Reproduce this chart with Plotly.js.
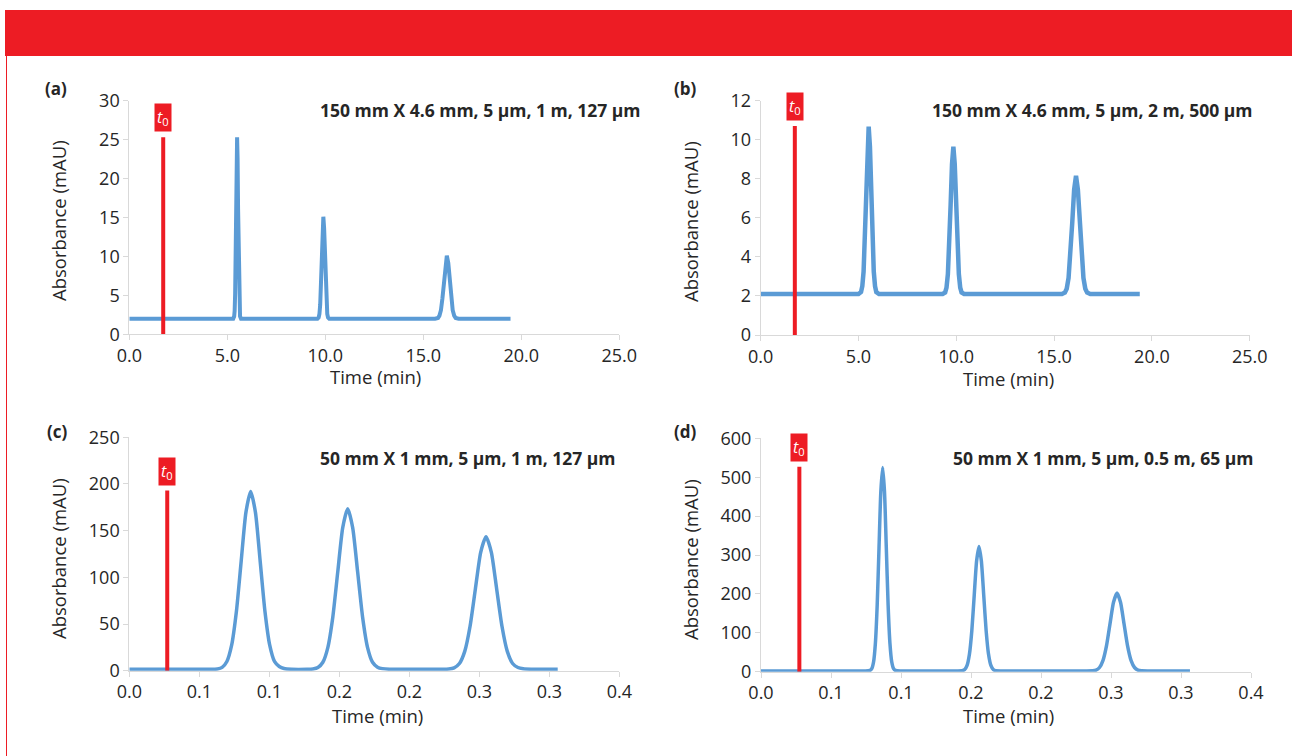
<!DOCTYPE html>
<html>
<head>
<meta charset="utf-8">
<script src="https://cdn.plot.ly/plotly-3.0.1.min.js"></script>
<style>html,body{margin:0;padding:0;background:#fff;}#chart{width:1292px;height:756px;}</style>
</head>
<body>
<div id="chart"></div>
<script>
// ---------- Data ----------
// Panel (a): 150 mm X 4.6 mm, 5 µm, 1 m, 127 µm
const timeA = [0, 5.3, 5.35, 5.375, 5.4, 5.425, 5.45, 5.475, 5.5, 5.525, 5.55, 5.575, 5.6, 5.625, 5.65, 5.7,
  9.6, 9.66, 9.7, 9.74, 9.78, 9.82, 9.86, 9.9, 9.94, 9.98, 10.02, 10.06, 10.1, 10.14, 10.2,
  15.6, 15.75, 15.825, 15.9, 15.975, 16.05, 16.125, 16.2, 16.275, 16.35, 16.425, 16.5, 16.575, 16.65, 16.8, 19.45];
const absA = [2.0, 2.0, 2.3, 3.0, 5.2, 9.6, 16.1, 22.6, 25.3, 22.6, 16.1, 9.6, 5.2, 3.0, 2.3, 2.0,
  2.0, 2.15, 2.6, 3.8, 6.3, 9.9, 13.6, 15.1, 13.6, 9.9, 6.3, 3.8, 2.6, 2.15, 2.0,
  2.0, 2.1, 2.4, 3.1, 4.6, 6.9, 9.15, 10.1, 9.15, 6.9, 4.6, 3.1, 2.4, 2.1, 2.0, 2.0];
const t0A = 1.73, t0TopA = 25.3;

// Panel (b): 150 mm X 4.6 mm, 5 µm, 2 m, 500 µm
const timeB = [0, 5.0, 5.13, 5.195, 5.26, 5.325, 5.39, 5.455, 5.52, 5.585, 5.65, 5.715, 5.78, 5.845, 5.91, 6.05,
  9.3, 9.43, 9.5, 9.57, 9.64, 9.71, 9.78, 9.85, 9.92, 9.99, 10.06, 10.13, 10.2, 10.27, 10.4,
  15.4, 15.55, 15.645, 15.74, 15.835, 15.93, 16.025, 16.12, 16.215, 16.31, 16.405, 16.5, 16.595, 16.69, 16.85, 19.38];
const absB = [2.1, 2.1, 2.2, 2.5, 3.25, 4.9, 7.3, 9.65, 10.67, 9.65, 7.3, 4.9, 3.25, 2.5, 2.2, 2.1,
  2.1, 2.18, 2.43, 3.12, 4.55, 6.67, 8.75, 9.64, 8.75, 6.67, 4.55, 3.12, 2.43, 2.18, 2.1,
  2.1, 2.17, 2.37, 2.92, 4.07, 5.78, 7.45, 8.16, 7.45, 5.78, 4.07, 2.92, 2.37, 2.17, 2.1, 2.1];
const t0B = 1.745, t0TopB = 10.7;

// Panel (c): 50 mm X 1 mm, 5 µm, 1 m, 127 µm
const timeC = [0, 0.03, 0.058, 0.0629, 0.0663, 0.0697, 0.0731, 0.0765, 0.0799, 0.0833, 0.0867, 0.0901, 0.0935, 0.0969, 0.1003, 0.1037, 0.1071, 0.1105, 0.116,
  0.127, 0.1312, 0.1347, 0.13825, 0.1418, 0.14535, 0.1489, 0.15245, 0.156, 0.15955, 0.1631, 0.16665, 0.1702, 0.17375, 0.1773, 0.1808, 0.186, 0.205,
  0.223, 0.2282, 0.232, 0.2358, 0.2396, 0.2434, 0.2472, 0.251, 0.2548, 0.2586, 0.2624, 0.2662, 0.27, 0.2738, 0.2776, 0.2814, 0.287, 0.306];
const absC = [1.5, 1.5, 1.5, 1.9, 3.6, 9.9, 27.3, 63.4, 117, 169.6, 192, 169.6, 117, 63.4, 27.3, 9.9, 4.5, 2.3, 1.5,
  1.5, 1.9, 3.4, 9.05, 24.8, 57.3, 105.8, 153.3, 173.5, 153.3, 105.8, 57.3, 24.8, 9.05, 3.8, 2.2, 1.5, 1.5,
  1.5, 1.8, 3.1, 7.7, 20.7, 47.6, 87.6, 126.8, 143.5, 126.8, 87.6, 47.6, 20.7, 7.7, 3.4, 2.0, 1.5, 1.5];
const t0C = 0.0271, t0TopC = 193;

// Panel (d): 50 mm X 1 mm, 5 µm, 0.5 m, 65 µm
const timeD = [0, 0.03, 0.074, 0.0778, 0.0791, 0.0804, 0.0817, 0.083, 0.0843, 0.0856, 0.0869, 0.0882, 0.0895, 0.0908, 0.0921, 0.0934, 0.0947, 0.096, 0.1, 0.12,
  0.14, 0.1438, 0.1455, 0.1472, 0.1489, 0.1506, 0.1523, 0.154, 0.1557, 0.1574, 0.1591, 0.1608, 0.1625, 0.1642, 0.1659, 0.1676, 0.172, 0.2,
  0.232, 0.2368, 0.2393, 0.2418, 0.2443, 0.2468, 0.2493, 0.2518, 0.2543, 0.2568, 0.2593, 0.2618, 0.2643, 0.2668, 0.2693, 0.2718, 0.277, 0.3064];
const absD = [2, 2, 2, 3.2, 7.8, 25, 72.8, 171.8, 319.2, 463.5, 525, 463.5, 319.2, 171.8, 72.8, 25, 7.8, 3.2, 2, 2,
  2, 2.7, 5.55, 16, 45.3, 105.9, 196.1, 284.4, 322, 284.4, 196.1, 105.9, 45.3, 16, 5.55, 2.7, 2, 2,
  2, 2.4, 4.2, 10.8, 29.1, 66.9, 123.3, 178.5, 202, 178.5, 123.3, 66.9, 29.1, 10.8, 4.2, 2.4, 2, 2];
const t0D = 0.0274, t0TopD = 527;

// Tick labels
const tickValsShort = [0, 0.05, 0.1, 0.15, 0.2, 0.25, 0.3, 0.35];
const tickTextShort = ['0.0', '0.1', '0.1', '0.2', '0.2', '0.3', '0.3', '0.4'];
const panelLabels = ['(a)', '(b)', '(c)', '(d)'];
const panelTitles = ['150 mm X 4.6 mm, 5 µm, 1 m, 127 µm', '150 mm X 4.6 mm, 5 µm, 2 m, 500 µm',
  '50 mm X 1 mm, 5 µm, 1 m, 127 µm', '50 mm X 1 mm, 5 µm, 0.5 m, 65 µm'];
const yTitle = 'Absorbance (mAU)';
const xTitle = 'Time (min)';

// ---------- Styling ----------
const W = 1292, H = 756;
const BLUE = '#5b9bd5', RED = '#ed1c24';
const FONT = '"Open Sans", "Noto Sans", sans-serif';
const px = v => v / W;
const py = v => 1 - v / H;

function blue(x, y, xa, ya, w, shape) {
  return {x: x, y: y, xaxis: xa, yaxis: ya, type: 'scatter', mode: 'lines',
    line: {color: BLUE, width: w, shape: shape, smoothing: 0.6}, hoverinfo: 'skip'};
}
function redLine(t, top, xa, ya) {
  return {x: [t, t], y: [0, top], xaxis: xa, yaxis: ya, type: 'scatter', mode: 'lines',
    line: {color: RED, width: 4}, hoverinfo: 'skip'};
}

const data = [
  blue(timeA, absA, 'x', 'y', 4, 'linear'),
  blue(timeB, absB, 'x2', 'y2', 4.5, 'linear'),
  blue(timeC, absC, 'x3', 'y3', 3.5, 'spline'),
  blue(timeD, absD, 'x4', 'y4', 3.5, 'spline'),
  redLine(t0A, t0TopA, 'x', 'y'),
  redLine(t0B, t0TopB, 'x2', 'y2'),
  redLine(t0C, t0TopC, 'x3', 'y3'),
  redLine(t0D, t0TopD, 'x4', 'y4')
];

const axBase = {showline: true, linecolor: '#d9d9d9', linewidth: 1, ticks: 'outside', ticklen: 5,
  tickcolor: '#d9d9d9', showgrid: false, zeroline: false, fixedrange: true,
  tickfont: {family: FONT, size: 18, color: '#262626'}};
function ax(extra) { return Object.assign({}, axBase, extra); }

const layout = {
  width: W, height: H, margin: {l: 0, r: 0, t: 0, b: 0}, paper_bgcolor: '#fff', plot_bgcolor: '#fff',
  showlegend: false, font: {family: FONT, color: '#262626'},
  xaxis: ax({domain: [px(129.3), px(619.3)], range: [0, 25], dtick: 5, tickformat: '.1f', anchor: 'y'}),
  yaxis: ax({domain: [py(334.3), py(100.7)], range: [0, 30], dtick: 5, anchor: 'x'}),
  xaxis2: ax({domain: [px(760.7), px(1249.7)], range: [0, 25], dtick: 5, tickformat: '.1f', anchor: 'y2'}),
  yaxis2: ax({domain: [py(335), py(100.7)], range: [0, 12], dtick: 2, anchor: 'x2'}),
  xaxis3: ax({domain: [px(129.3), px(619.3)], range: [0, 0.35], tickmode: 'array', tickvals: tickValsShort, ticktext: tickTextShort, anchor: 'y3'}),
  yaxis3: ax({domain: [py(670.7), py(437.3)], range: [0, 250], dtick: 50, anchor: 'x3'}),
  xaxis4: ax({domain: [px(761), px(1251)], range: [0, 0.35], tickmode: 'array', tickvals: tickValsShort, ticktext: tickTextShort, anchor: 'y4'}),
  yaxis4: ax({domain: [py(671.7), py(438.3)], range: [0, 600], dtick: 100, anchor: 'x4'}),
  shapes: [
    {type: 'rect', xref: 'paper', yref: 'paper', x0: px(5), x1: 1, y0: py(56), y1: py(10), fillcolor: RED, line: {width: 0}, layer: 'below'},
    {type: 'line', xref: 'paper', yref: 'paper', x0: px(6.5), x1: px(6.5), y0: 0, y1: py(56), line: {color: RED, width: 1}}
  ],
  annotations: []
};

const ann = layout.annotations;
// panel labels
const labelPos = [[56, 88], [685, 88], [57, 431], [685, 431]];
panelLabels.forEach((t, i) => ann.push({text: '<b>' + t + '</b>', xref: 'paper', yref: 'paper',
  x: px(labelPos[i][0]), y: py(labelPos[i][1]), xanchor: 'center', yanchor: 'middle', showarrow: false,
  font: {family: FONT, size: 17, color: '#262626'}}));
// panel titles (right-aligned)
const titlePos = [[643, 110], [1255, 110], [618, 458], [1256, 458]];
panelTitles.forEach((t, i) => ann.push({text: '<b>' + t + '</b>', xref: 'paper', yref: 'paper',
  x: px(titlePos[i][0]), y: py(titlePos[i][1]), xanchor: 'right', yanchor: 'middle', showarrow: false,
  font: {family: FONT, size: 17.5, color: '#262626'}}));
// axis titles
const xTitlePos = [[376, 377], [1008, 378], [377, 715], [1008, 715]];
xTitlePos.forEach(p => ann.push({text: xTitle, xref: 'paper', yref: 'paper', x: px(p[0]), y: py(p[1]),
  xanchor: 'center', yanchor: 'middle', showarrow: false, font: {family: FONT, size: 18.5, color: '#262626'}}));
const yTitlePos = [[58, 221], [690, 221], [58, 559], [690, 559]];
yTitlePos.forEach(p => ann.push({text: yTitle, xref: 'paper', yref: 'paper', x: px(p[0]), y: py(p[1]),
  xanchor: 'center', yanchor: 'middle', textangle: -90, showarrow: false, font: {family: FONT, size: 18.5, color: '#262626'}}));
// t0 boxes
const t0s = [[t0A, t0TopA, 'x', 'y'], [t0B, t0TopB, 'x2', 'y2'], [t0C, t0TopC, 'x3', 'y3'], [t0D, t0TopD, 'x4', 'y4']];
t0s.forEach(t => ann.push({text: '<i>t</i><sub>0</sub>', xref: t[2], yref: t[3], x: t[0], y: t[1],
  xanchor: 'center', yanchor: 'bottom', yshift: 5, showarrow: false, bgcolor: RED, borderpad: 2,
  font: {family: FONT, size: 16, color: '#ffffff'}}));

Plotly.newPlot('chart', data, layout, {staticPlot: true, displayModeBar: false});
</script>
</body>
</html>
